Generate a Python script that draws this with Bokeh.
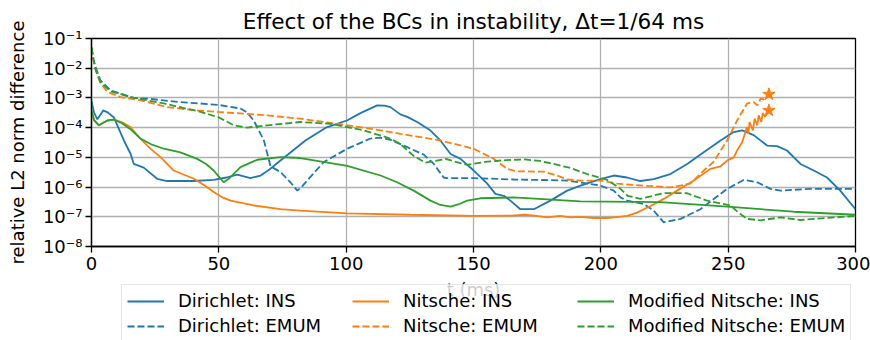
from bokeh.plotting import figure
from bokeh.layouts import column
from bokeh.models import Range1d, FixedTicker, CustomJSTickFormatter, Legend, LegendItem
from bokeh.embed import file_html
from bokeh.resources import INLINE

# time axis (ms) and relative L2 norm difference for each boundary condition / model
t_dir_ins = [0.0, 1.0, 2.3, 4.6, 6.5, 8.8, 12.7, 15.3, 16.6, 20.5, 25.8, 29.7, 40.0, 48.0, 53.0,
             57.2, 62.4, 66.4, 70.0, 74.2, 84.0, 92.0, 100.3, 106.0, 112.2, 115.0, 117.4, 121.3,
             124.0, 127.9, 133.0, 137.0, 141.0, 144.9, 150.1, 155.4, 158.6, 161.9, 164.5, 168.4,
             173.7, 180.2, 186.8, 192.0, 199.8, 205.1, 210.3, 215.5, 220.8, 227.3, 233.9, 240.4,
             247.0, 252.2, 255.5, 260.0, 265.3, 269.2, 273.1, 278.4, 283.6, 288.8, 294.0, 300.0]
v_dir_ins = [7.9e-4, 3.2e-4, 1.9e-4, 3.8e-4, 3.2e-4, 2.2e-4, 3.7e-5, 1.35e-5, 6.0e-6, 4.5e-6,
             1.9e-6, 1.6e-6, 1.6e-6, 1.75e-6, 2.1e-6, 2.6e-6, 2.0e-6, 2.45e-6, 4.0e-6, 7.8e-6,
             3.7e-5, 1.0e-4, 1.74e-4, 3.2e-4, 5.6e-4, 5.5e-4, 4.9e-4, 2.8e-4, 2.3e-4, 1.55e-4,
             8.1e-5, 3.7e-5, 1.3e-5, 8.9e-6, 3.6e-6, 1.3e-6, 5.9e-7, 5.1e-7, 3.5e-7, 1.8e-7,
             1.8e-7, 3.5e-7, 7.6e-7, 1.12e-6, 1.86e-6, 2.45e-6, 2.1e-6, 1.6e-6, 1.86e-6, 2.75e-6,
             6.0e-6, 1.48e-5, 3.7e-5, 7.1e-5, 8.1e-5, 5.6e-5, 2.5e-5, 2.4e-5, 1.7e-5, 6.0e-6,
             3.6e-6, 2.1e-6, 7.6e-7, 1.8e-7]

t_dir_emum = [0.0, 0.8, 1.6, 3.5, 7.5, 11.4, 16.6, 21.9, 34.9, 42.8, 50.0, 58.5, 61.0, 63.7, 67.7,
              70.3, 74.2, 78.1, 80.8, 82.5, 84.7, 91.2, 100.4, 109.5, 113.5, 117.4, 124.0, 130.5,
              134.4, 138.3, 139.6, 150.1, 165.8, 186.8, 199.8, 205.1, 207.7, 210.3, 216.8, 220.8,
              224.7, 231.3, 239.1, 249.6, 256.1, 261.4, 266.6, 270.5, 282.3, 300.0]
v_dir_emum = [5.0e-2, 2.0e-2, 1.1e-2, 3.9e-3, 1.8e-3, 1.4e-3, 1.0e-3, 9.5e-4, 7.2e-4, 6.5e-4,
              5.8e-4, 4.4e-4, 3.3e-4, 1.74e-4, 3.7e-5, 5.0e-6, 3.2e-6, 1.45e-6, 7.6e-7, 1.0e-6,
              1.66e-6, 6.9e-6, 1.95e-5, 4.3e-5, 4.6e-5, 3.9e-5, 2.2e-5, 1.23e-5, 6.0e-6, 2.1e-6,
              2.0e-6, 2.0e-6, 1.8e-6, 1.66e-6, 1.12e-6, 7.6e-7, 4.5e-7, 3.5e-7, 2.7e-7, 1.6e-7,
              6.5e-8, 8.5e-8, 1.8e-7, 8.7e-7, 1.74e-6, 1.45e-6, 8.7e-7, 7.6e-7, 8.7e-7, 8.7e-7]

t_nit_ins = [0.0, 1.0, 2.9, 6.2, 8.8, 12.0, 15.3, 19.2, 23.0, 27.1, 32.3, 40.2, 44.0, 48.0, 51.0,
             54.6, 63.7, 74.2, 82.0, 100.4, 125.0, 150.1, 165.0, 170.0, 174.0, 179.0, 184.0,
             188.0, 192.0, 197.0, 202.7, 207.0, 210.3, 214.2, 219.5, 224.7, 229.9, 236.5, 243.0,
             247.0, 249.6, 252.2, 253.5, 255.5, 257.4, 257.9, 258.4, 259.7, 260.4, 261.4, 262.0,
             263.0, 263.6, 264.5, 266.0]
v_nit_ins = [3.5e-4, 1.8e-4, 1.2e-4, 1.74e-4, 1.86e-4, 1.5e-4, 1.05e-4, 4.3e-5, 2.0e-5, 1.02e-5,
             3.6e-6, 1.9e-6, 1.2e-6, 6.8e-7, 4.7e-7, 3.5e-7, 2.4e-7, 1.8e-7, 1.6e-7, 1.3e-7,
             1.17e-7, 1.07e-7, 1.1e-7, 1.17e-7, 1.1e-7, 9.5e-8, 1.07e-7, 9.5e-8, 1.0e-7, 9.1e-8,
             9.1e-8, 1.0e-7, 1.07e-7, 1.38e-7, 2.3e-7, 4.0e-7, 7.6e-7, 1.66e-6, 4.1e-6, 5.0e-6,
             7.8e-6, 1.0e-5, 1.7e-5, 3.2e-5, 1.05e-4, 6.2e-5, 1.55e-4, 8.1e-5, 2.0e-4, 1.2e-4,
             2.6e-4, 1.55e-4, 3.1e-4, 2.3e-4, 3.8e-4]

t_nit_emum = [0.0, 0.8, 1.6, 3.5, 6.2, 11.4, 19.2, 29.7, 41.5, 49.3, 69.0, 82.0, 100.4, 113.5,
              121.3, 137.0, 150.1, 158.0, 163.2, 167.1, 177.6, 182.8, 186.8, 192.0, 199.8, 206.4,
              216.8, 227.3, 235.1, 240.4, 244.3, 249.6, 253.5, 257.4, 260.0, 261.5, 262.7, 264.0,
              266.0]
v_nit_emum = [5.0e-2, 1.8e-2, 8.9e-3, 3.2e-3, 1.6e-3, 1.07e-3, 8.3e-4, 4.9e-4, 3.8e-4, 3.4e-4,
              2.6e-4, 2.0e-4, 1.2e-4, 8.1e-5, 6.2e-5, 3.7e-5, 1.95e-5, 8.9e-6, 4.1e-6, 3.4e-6,
              3.3e-6, 2.45e-6, 1.8e-6, 1.66e-6, 1.66e-6, 1.3e-6, 1.12e-6, 9.8e-7, 1.3e-6, 3.6e-6,
              7.1e-6, 3.7e-5, 1.74e-4, 6.5e-4, 7.2e-4, 5.6e-4, 9.5e-4, 8.9e-4, 1.32e-3]

t_mod_ins = [0.0, 1.0, 2.9, 6.2, 8.8, 12.0, 15.3, 19.2, 23.2, 28.4, 34.9, 41.5, 45.0, 48.0, 50.5,
             51.9, 53.9, 58.5, 65.1, 74.2, 82.0, 100.4, 113.5, 120.0, 126.5, 133.1, 137.0, 141.0,
             144.0, 147.5, 152.7, 165.8, 192.0, 223.4, 249.6, 275.7, 300.0]
v_mod_ins = [3.8e-4, 1.8e-4, 1.2e-4, 1.74e-4, 1.86e-4, 1.4e-4, 8.9e-5, 4.3e-5, 2.8e-5, 1.95e-5,
             1.48e-5, 8.9e-6, 6.0e-6, 3.6e-6, 2.0e-6, 1.45e-6, 1.9e-6, 4.7e-6, 8.3e-6, 1.02e-5,
             9.5e-6, 5.2e-6, 2.45e-6, 1.45e-6, 7.6e-7, 3.5e-7, 2.5e-7, 2.2e-7, 2.6e-7, 3.5e-7,
             4.2e-7, 4.5e-7, 3.3e-7, 3.1e-7, 2.2e-7, 1.48e-7, 1.17e-7]

t_mod_emum = [0.0, 0.8, 1.6, 3.5, 7.5, 15.3, 28.4, 42.8, 50.0, 55.9, 61.1, 69.0, 82.0, 93.8,
              106.9, 117.4, 121.3, 126.5, 131.1, 135.0, 139.0, 143.0, 147.5, 155.4, 163.0, 169.8,
              176.0, 181.6, 188.0, 194.6, 202.5, 207.7, 210.5, 215.5, 220.0, 224.7, 233.9, 241.7,
              250.9, 254.0, 257.4, 262.7, 270.5, 278.4, 288.8, 300.0]
v_mod_emum = [5.0e-2, 1.9e-2, 8.9e-3, 3.4e-3, 1.66e-3, 1.07e-3, 6.5e-4, 3.4e-4, 2.2e-4, 1.2e-4,
              1.0e-4, 1.2e-4, 1.55e-4, 1.35e-4, 8.1e-5, 4.3e-5, 2.8e-5, 1.12e-5, 6.6e-6, 7.6e-6,
              8.9e-6, 7.1e-6, 5.6e-6, 7.2e-6, 8.1e-6, 8.5e-6, 7.6e-6, 6.0e-6, 4.4e-6, 2.75e-6,
              1.74e-6, 8.7e-7, 5.1e-7, 4.0e-7, 5.0e-7, 6.3e-7, 6.2e-7, 3.5e-7, 2.4e-7, 1.4e-7,
              8.5e-8, 7.6e-8, 9.5e-8, 7.8e-8, 9.1e-8, 1.07e-7]

x_ticks = [0, 50, 100, 150, 200, 250, 300]
y_ticks = [1e-8, 1e-7, 1e-6, 1e-5, 1e-4, 1e-3, 1e-2, 1e-1]

BLUE, ORANGE, GREEN = "#1f77b4", "#ff7f0e", "#2ca02c"
FONT = "DejaVu Sans"
DASH = "7 3"
LEGEND_H = 56

p = figure(width=870, height=340, y_axis_type="log",
           x_range=Range1d(0, 300), y_range=Range1d(1e-8, 1e-1),
           output_backend="svg", toolbar_location=None,
           min_border_left=91, min_border_right=15, min_border_top=38, min_border_bottom=94,
           title="Effect of the BCs in instability, \u0394t=1/64 ms")

p.title.align = "center"
p.title.text_font = FONT
p.title.text_font_size = "21.6px"
p.title.text_font_style = "normal"
p.title.text_color = "black"

p.outline_line_color = "black"
p.outline_line_width = 1.3
p.outline_line_alpha = 1.0

for ax in (p.xaxis[0], p.yaxis[0]):
    ax.axis_line_color = "black"
    ax.axis_line_width = 1.3
    ax.major_tick_in = 0
    ax.major_tick_out = 6
    ax.major_tick_line_color = "black"
    ax.major_tick_line_width = 1.3
    ax.minor_tick_line_color = None
    ax.major_label_text_font = FONT
    ax.major_label_text_font_size = "18px"
    ax.major_label_text_color = "black"
    ax.axis_label_text_font = FONT
    ax.axis_label_text_font_size = "18px"
    ax.axis_label_text_font_style = "normal"
    ax.axis_label_text_color = "black"

p.xaxis.ticker = FixedTicker(ticks=x_ticks)
p.yaxis.ticker = FixedTicker(ticks=y_ticks)
p.xaxis.major_label_standoff = 4
p.yaxis.major_label_standoff = 3
p.xaxis.axis_label = "t (ms)"
p.xaxis.axis_label_standoff = 6
p.yaxis.axis_label = "relative L2 norm difference"
p.yaxis.axis_label_standoff = 12

p.yaxis.formatter = CustomJSTickFormatter(code="""
const sup = {"-": "\u207b", "0": "\u2070", "1": "\u00b9", "2": "\u00b2", "3": "\u00b3",
             "4": "\u2074", "5": "\u2075", "6": "\u2076", "7": "\u2077", "8": "\u2078", "9": "\u2079"};
const e = Math.round(Math.log10(tick));
return "10" + String(e).split("").map(c => sup[c]).join("");
""")

for g in (p.xgrid[0], p.ygrid[0]):
    g.grid_line_color = "#b0b0b0"
    g.grid_line_width = 1.3
p.xgrid.ticker = FixedTicker(ticks=x_ticks)
p.ygrid.ticker = FixedTicker(ticks=y_ticks)

series = [
    ("Dirichlet: INS", t_dir_ins, v_dir_ins, BLUE, "solid"),
    ("Dirichlet: EMUM", t_dir_emum, v_dir_emum, BLUE, DASH),
    ("Nitsche: INS", t_nit_ins, v_nit_ins, ORANGE, "solid"),
    ("Nitsche: EMUM", t_nit_emum, v_nit_emum, ORANGE, DASH),
    ("Modified Nitsche: INS", t_mod_ins, v_mod_ins, GREEN, "solid"),
    ("Modified Nitsche: EMUM", t_mod_emum, v_mod_emum, GREEN, DASH),
]

for label, t, v, color, dash in series:
    p.line(t, v, line_color=color, line_width=1.8, line_dash=dash)

# the Nitsche runs blow up: mark where they stop
p.scatter([t_nit_ins[-1], t_nit_emum[-1]], [v_nit_ins[-1], v_nit_emum[-1]],
          marker="star", size=13, color=ORANGE)

# legend strip: a transparent figure pulled up so it overlaps the x-axis label area;
# its ranges sit away from the data so only the legend itself shows
leg = figure(width=870, height=LEGEND_H, output_backend="svg", toolbar_location=None,
             x_range=Range1d(1000, 1001), y_range=Range1d(1000, 1001),
             x_axis_location=None, y_axis_location=None,
             min_border_left=91, min_border_right=15, min_border_top=0, min_border_bottom=0,
             styles={"margin-top": f"-{LEGEND_H}px"})
leg.grid.visible = False
leg.outline_line_color = None
leg.background_fill_alpha = 0
leg.border_fill_alpha = 0

items = []
for label, t, v, color, dash in series:
    r = leg.line(t, v, line_color=color, line_width=1.8, line_dash=dash)
    items.append(LegendItem(label=label, renderers=[r]))

legend = Legend(items=items, location=(30, -2), orientation="vertical", ncols=3,
                label_text_font=FONT, label_text_font_size="18px", label_text_color="black",
                glyph_width=37, glyph_height=20, label_standoff=14, label_height=20,
                label_width=170, spacing=4, padding=5, margin=0,
                border_line_color="#cccccc", border_line_width=1.3,
                background_fill_color="white", background_fill_alpha=0.8)
leg.add_layout(legend, "center")

page = column(p, leg, spacing=0)
open("out.html", "w").write(file_html(page, INLINE))
